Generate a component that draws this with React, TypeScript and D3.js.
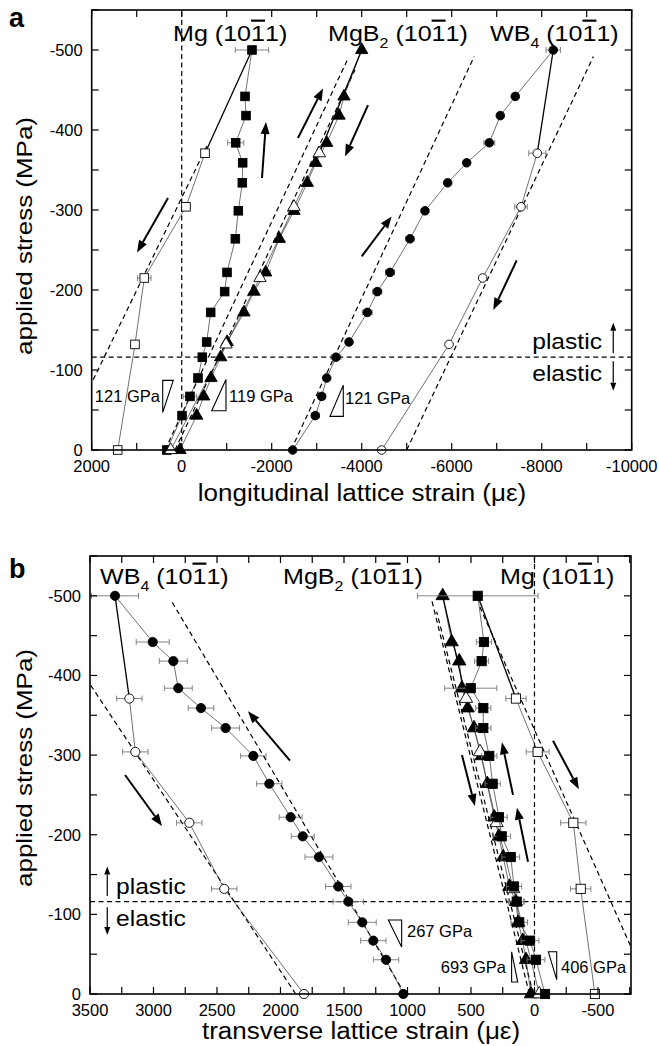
import React from "react";
import * as d3 from "d3";

const FONT = "'Liberation Sans', Arial, Helvetica, sans-serif";

// applied stress steps (MPa), the same for every phase
const loadStress = [0, -43, -67, -90, -116, -135, -172, -198, -222, -264, -299, -334, -359, -384, -418, -442, -500];
const unloadStress = [-500, -371, -304, -215, -132, 0];
const yieldStress = -116;

// panel a: longitudinal lattice strain (με)
const aMgLoad = [330, -7, -184, -362, -458, -555, -644, -955, -1007, -1192, -1258, -1347, -1355, -1200, -1429, -1407, -1562];
const aMgLoadErr = [0, 0, 150, 0, 0, 0, 0, 0, 0, 0, 0, 0, 0, 180, 0, 0, 370];
const aMgUnload = [-1562, -518, -95, 831, 1038, 1422];
const aMgUnloadErr = [0, 0, 0, 150, 0, 0];
const aMgB2Load = [40, -333, -489, -651, -867, -1010, -1384, -1607, -1866, -2169, -2495, -2791, -2978, -3222, -3496, -3606, -4000];
const aMgB2LoadErr = [0, 0, 0, 0, 0, 0, 0, 0, 100, 0, 0, 0, 0, 0, 0, 0, 0];
const aMgB2Unload = [-4000, -3058, -2495, -1740, -984, 244];
const aMgB2UnloadErr = [0, 0, 0, 0, 0, 0];
const aWB4Load = [-2466, -2969, -3111, -3222, -3429, -3718, -4125, -4347, -4629, -5073, -5406, -5911, -6333, -6836, -7080, -7413, -8257];
const aWB4LoadErr = [0, 90, 80, 0, 110, 0, 110, 100, 100, 90, 0, 0, 0, 120, 0, 0, 160];
const aWB4Unload = [-8257, -7902, -7540, -6688, -5940, -4444];
const aWB4UnloadErr = [0, 190, 140, 0, 0, 0];

// panel a: elastic reference lines (strain, stress)
const aDashes: [number, number][][] = [
  [[-560, -380], [2000, -84]],
  [[370, 0], [-3700, -490]],
  [[150, 0], [-3850, -475]],
  [[-2430, 0], [-6500, -492]],
  [[-5000, 0], [-9150, -492]],
];
const aArrows: [number, number][][] = [
  [[304, -315], [993, -247]],
  [[-1784, -340], [-1873, -410]],
  [[-2584, -390], [-3140, -452]],
  [[-4140, -431], [-3629, -367]],
  [[-4000, -242], [-4666, -292]],
  [[-7444, -237], [-6924, -175]],
];
const aSlopes: [number, number][][] = [
  [[422, -87], [187, -87], [422, -47]],
  [[-667, -49], [-984, -88], [-984, -49]],
  [[-3295, -42], [-3591, -81], [-3591, -42]],
];
const aSlopeLabels = ["121 GPa", "119 GPa", "121 GPa"];

// panel b: transverse lattice strain (με)
const bWB4Load = [1033, 1169, 1269, 1356, 1466, 1545, 1697, 1825, 1920, 2088, 2214, 2432, 2626, 2805, 2844, 3006, 3303];
const bWB4LoadErr = [0, 100, 100, 110, 120, 100, 110, 90, 90, 100, 100, 110, 100, 110, 110, 130, 185];
const bWB4Unload = [3303, 3190, 3143, 2718, 2443, 1815];
const bWB4UnloadErr = [0, 100, 100, 100, 100, 0];
const bMgB2Load = [28, 67, 93, 128, 146, 198, 246, 280, 317, 372, 416, 476, 526, 571, 592, 652, 723];
const bMgB2LoadErr = [0, 0, 0, 0, 60, 0, 0, 0, 0, 0, 0, 0, 0, 0, 0, 0, 0];
const bMgB2Unload = [723, 539, 429, 298, 167, -38];
const bMgB2UnloadErr = [0, 0, 0, 0, 0, 0];
const bMgLoad = [-83, -12, 35, 120, 140, 161, 187, 258, 280, 329, 356, 403, 403, 502, 416, 398, 447];
const bMgLoadErr = [0, 70, 70, 65, 60, 60, 70, 70, 65, 60, 60, 60, 60, 205, 55, 60, 475];
const bMgUnload = [447, 146, -25, -306, -364, -476];
const bMgUnloadErr = [0, 80, 90, 100, 80, 0];

const bDashes: [number, number][][] = [
  [[1020, 0], [2857, -493]],
  [[1880, 0], [3500, -389]],
  [[40, 0], [810, -495]],
  [[10, 0], [770, -480]],
  [[430, -486], [-760, -59]],
];
const bArrows: [number, number][][] = [
  [[1925, -293], [2256, -355]],
  [[3224, -275], [2933, -211]],
  [[571, -300], [469, -236]],
  [[169, -250], [256, -316]],
  [[51, -166], [138, -234]],
  [[-146, -318], [-350, -257]],
];
const bSlopes: [number, number][][] = [
  [[1151, -93], [1046, -93], [1046, -59]],
  [[180, -53], [180, -15], [132, -15]],
  [[-109, -53], [-175, -53], [-175, -18]],
];
const bSlopeLabels = ["267 GPa", "693 GPa", "406 GPa"];

type Pt = [number, number];
const zip = (xs: number[], ys: number[]): Pt[] => xs.map((v, i) => [v, ys[i]]);

function Arrow({ x1, y1, x2, y2, w = 2, head = 12, hw = 4.5 }: any) {
  const a = Math.atan2(y2 - y1, x2 - x1);
  const bx = x2 - head * Math.cos(a);
  const by = y2 - head * Math.sin(a);
  const px = -Math.sin(a) * hw;
  const py = Math.cos(a) * hw;
  return (
    <g>
      <line x1={x1} y1={y1} x2={bx} y2={by} stroke="#000" strokeWidth={w} />
      <polygon points={`${x2},${y2} ${bx + px},${by + py} ${bx - px},${by - py}`} fill="#000" />
    </g>
  );
}

function Marker({ shape, filled, cx, cy, r }: any) {
  const fill = filled ? "#000" : "#fff";
  if (shape === "circle") return <circle cx={cx} cy={cy} r={r} fill={fill} stroke="#000" strokeWidth={0.9} />;
  if (shape === "square")
    return <rect x={cx - r} y={cy - r} width={2 * r} height={2 * r} fill={fill} stroke="#000" strokeWidth={0.9} />;
  const d = d3.symbol().type(d3.symbolTriangle).size(r * r * 3.6)() as string;
  return <path d={d} transform={`translate(${cx},${cy})`} fill={fill} stroke="#000" strokeWidth={0.9} />;
}

function Title({ x, y, name, sub }: any) {
  return (
    <text transform={`translate(${x},${y}) scale(1.14,1)`} fontSize={22}>
      <tspan>{name}</tspan>
      {sub ? <tspan dy={7} fontSize={14}>{sub}</tspan> : null}
      <tspan dy={sub ? -7 : 0}>{" (10"}</tspan>
      <tspan style={{ textDecoration: "overline" }}>1</tspan>
      <tspan>1)</tspan>
    </text>
  );
}

function Panel({ p }: any) {
  const { x, y } = p;
  const [x0, x1] = x.range();
  const [yb, yt] = y.range();
  const line = d3.line<Pt>().x((d) => x(d[0])).y((d) => y(d[1]));
  const dash = { stroke: "#000", strokeWidth: 1.2, strokeDasharray: "5,3.5", fill: "none" };
  const xMinor = d3.range(p.xDomain[0], p.xDomain[1] - 1, -p.xStep / 2);
  const xMajor = d3.range(p.xDomain[0], p.xLast - 1, -p.xStep);
  const yMinor = d3.range(0, -551, -50);
  const yMajor = d3.range(0, -501, -100);
  const tick = 7;
  return (
    <g>
      {/* guide lines */}
      <line x1={x(0)} x2={x(0)} y1={yb} y2={yt} {...dash} />
      <line x1={x0} x2={x1} y1={y(yieldStress)} y2={y(yieldStress)} {...dash} />
      {p.dashes.map((d: Pt[], i: number) => (
        <path key={i} d={line(d) as string} {...dash} />
      ))}
      {/* series */}
      {p.series.map((s: any, i: number) => {
        const ld = zip(s.load, loadStress);
        const ud = zip(s.unload, unloadStress);
        return (
          <g key={i}>
            <path d={line(ld) as string} fill="none" stroke="#333" strokeWidth={0.7} />
            <path d={line(ud.slice(0, 2)) as string} fill="none" stroke="#000" strokeWidth={1.3} />
            <path d={line(ud.slice(1)) as string} fill="none" stroke="#333" strokeWidth={0.7} />
            {[...ld.map((d, j) => [d, s.loadErr[j]]), ...ud.map((d, j) => [d, s.unloadErr[j]])].map(
              ([d, e]: any, j: number) =>
                e > 0 ? (
                  <g key={j} stroke="#777" strokeWidth={0.9}>
                    <line x1={x(d[0] - e)} x2={x(d[0] + e)} y1={y(d[1])} y2={y(d[1])} />
                    <line x1={x(d[0] - e)} x2={x(d[0] - e)} y1={y(d[1]) - 3} y2={y(d[1]) + 3} />
                    <line x1={x(d[0] + e)} x2={x(d[0] + e)} y1={y(d[1]) - 3} y2={y(d[1]) + 3} />
                  </g>
                ) : null
            )}
            {ld.map((d, j) => (
              <Marker key={"l" + j} shape={s.shape} filled cx={x(d[0])} cy={y(d[1])} r={p.r} />
            ))}
            {ud.slice(1).map((d, j) => (
              <Marker key={"u" + j} shape={s.shape} filled={false} cx={x(d[0])} cy={y(d[1])} r={p.r} />
            ))}
          </g>
        );
      })}
      {/* arrows */}
      {p.arrows.map((a: Pt[], i: number) => (
        <Arrow key={i} x1={x(a[0][0])} y1={y(a[0][1])} x2={x(a[1][0])} y2={y(a[1][1])} />
      ))}
      {p.yieldArrows.map((a: Pt[], i: number) => (
        <Arrow key={i} x1={x(a[0][0])} y1={y(a[0][1])} x2={x(a[1][0])} y2={y(a[1][1])} w={1.2} head={8} hw={3} />
      ))}
      {/* slope triangles */}
      {p.slopes.map((t: Pt[], i: number) => (
        <g key={i}>
          <polygon points={t.map((d) => `${x(d[0])},${y(d[1])}`).join(" ")} fill="#fff" stroke="#000" strokeWidth={1.1} />
          <text
            x={p.slopeText[i][0]}
            y={p.slopeText[i][1]}
            textAnchor={p.slopeText[i][2]}
            fontSize={16.5}
          >
            {p.slopeLabels[i]}
          </text>
        </g>
      ))}
      {/* frame and ticks */}
      <rect x={x0} y={yt} width={x1 - x0} height={yb - yt} fill="none" stroke="#000" strokeWidth={1.6} />
      {xMinor.map((v: number) => (
        <g key={"x" + v} stroke="#000" strokeWidth={1.2}>
          <line x1={x(v)} x2={x(v)} y1={yb} y2={yb - tick} />
          <line x1={x(v)} x2={x(v)} y1={yt} y2={yt + tick} />
        </g>
      ))}
      {yMinor.map((v: number) => (
        <g key={"y" + v} stroke="#000" strokeWidth={1.2}>
          <line x1={x0} x2={x0 + tick} y1={y(v)} y2={y(v)} />
          <line x1={x1} x2={x1 - tick} y1={y(v)} y2={y(v)} />
        </g>
      ))}
      {xMajor.map((v: number) => (
        <text key={"xl" + v} x={x(v)} y={yb + 22} textAnchor="middle" fontSize={16.5}>
          {String(v)}
        </text>
      ))}
      {yMajor.map((v: number) => (
        <text key={"yl" + v} x={x0 - 9} y={y(v)} dy="0.36em" textAnchor="end" fontSize={16.5}>
          {String(v)}
        </text>
      ))}
    </g>
  );
}

const panelA = {
  x: d3.scaleLinear().domain([2000, -10000]).range([91.7, 631.7]),
  y: d3.scaleLinear().domain([0, -550]).range([450, 10]),
  xDomain: [2000, -10000],
  xLast: -10000,
  xStep: 2000,
  r: 4.3,
  series: [
    { shape: "square", load: aMgLoad, loadErr: aMgLoadErr, unload: aMgUnload, unloadErr: aMgUnloadErr },
    { shape: "triangle", load: aMgB2Load, loadErr: aMgB2LoadErr, unload: aMgB2Unload, unloadErr: aMgB2UnloadErr },
    { shape: "circle", load: aWB4Load, loadErr: aWB4LoadErr, unload: aWB4Unload, unloadErr: aWB4UnloadErr },
  ],
  dashes: aDashes,
  arrows: aArrows,
  yieldArrows: [
    [[-9590, -121], [-9590, -159]],
    [[-9590, -111], [-9590, -74]],
  ],
  slopes: aSlopes,
  slopeLabels: aSlopeLabels,
  slopeText: [
    [160, 402, "end"],
    [229, 402, "start"],
    [345, 404, "start"],
  ],
};

const panelB = {
  x: d3.scaleLinear().domain([3500, -760]).range([90, 631]),
  y: d3.scaleLinear().domain([0, -550]).range([994, 556]),
  xDomain: [3500, -760],
  xLast: -500,
  xStep: 500,
  r: 4.6,
  series: [
    { shape: "circle", load: bWB4Load, loadErr: bWB4LoadErr, unload: bWB4Unload, unloadErr: bWB4UnloadErr },
    { shape: "triangle", load: bMgB2Load, loadErr: bMgB2LoadErr, unload: bMgB2Unload, unloadErr: bMgB2UnloadErr },
    { shape: "square", load: bMgLoad, loadErr: bMgLoadErr, unload: bMgUnload, unloadErr: bMgUnloadErr },
  ],
  dashes: bDashes,
  arrows: bArrows,
  yieldArrows: [
    [[3364, -123], [3364, -160]],
    [[3364, -109], [3364, -74]],
  ],
  slopes: bSlopes,
  slopeLabels: bSlopeLabels,
  slopeText: [
    [407, 937, "start"],
    [506, 973, "end"],
    [561, 973, "start"],
  ],
};

export default function App() {
  return (
    <svg
      width={659}
      height={1046}
      style={{ position: "absolute", left: 0, top: 0, background: "#fff" }}
      fontFamily={FONT}
    >
      <rect width={659} height={1046} fill="#fff" />
      <Panel p={panelA} />
      <Panel p={panelB} />

      {/* panel a text */}
      <text x={9} y={27} fontSize={27} fontWeight="bold">a</text>
      <Title x={173} y={41} name="Mg" />
      <Title x={328} y={41} name="MgB" sub="2" />
      <Title x={490} y={41} name="WB" sub="4" />
      <text transform="translate(602,349) scale(1.12,1)" textAnchor="end" fontSize={22}>plastic</text>
      <text transform="translate(602,381) scale(1.12,1)" textAnchor="end" fontSize={22}>elastic</text>
      <text transform="translate(362,501) scale(1.13,1)" textAnchor="middle" fontSize={23}>
        longitudinal lattice strain (με)
      </text>
      <text transform="translate(32,236) rotate(-90) scale(1.18,1)" textAnchor="middle" fontSize={22}>
        applied stress (MPa)
      </text>

      {/* panel b text */}
      <text x={9} y={578} fontSize={27} fontWeight="bold">b</text>
      <Title x={100} y={584} name="WB" sub="4" />
      <Title x={283} y={584} name="MgB" sub="2" />
      <Title x={500} y={584} name="Mg" />
      <text transform="translate(116,894) scale(1.12,1)" fontSize={22}>plastic</text>
      <text transform="translate(116,926) scale(1.12,1)" fontSize={22}>elastic</text>
      <text transform="translate(361,1039) scale(1.13,1)" textAnchor="middle" fontSize={23}>
        transverse lattice strain (με)
      </text>
      <text transform="translate(32,768) rotate(-90) scale(1.18,1)" textAnchor="middle" fontSize={22}>
        applied stress (MPa)
      </text>
    </svg>
  );
}
